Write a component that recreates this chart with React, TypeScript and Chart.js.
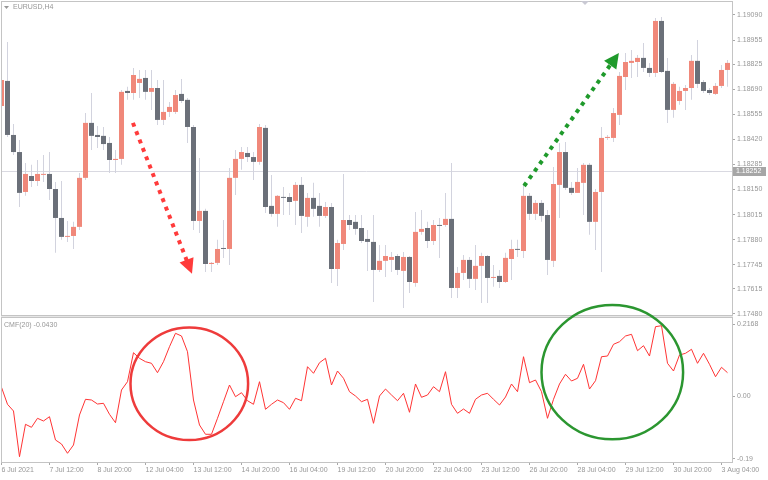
import React, { useEffect, useRef } from "react";
import { Chart, registerables } from "chart.js";

Chart.register(...registerables);

// ---------- DATA (EURUSD H4, bar 0 = 6 Jul 2021 04:00) ----------
const opens = [
  1.18600, 1.18735, 1.18444, 1.18352, 1.18137, 1.18223, 1.18196, 1.18229, 1.18234, 1.18153,
  1.17997, 1.17895, 1.17900, 1.17949, 1.18213, 1.18509, 1.18444, 1.18439, 1.18401, 1.18309,
  1.18315, 1.18681, 1.18670, 1.18724, 1.18751, 1.18676, 1.18697, 1.18525, 1.18568, 1.18568,
  1.18665, 1.18633, 1.18487, 1.17981, 1.18035, 1.17749, 1.17755, 1.17835, 1.17830, 1.18213,
  1.18315, 1.18347, 1.18325, 1.18299, 1.18482, 1.18062, 1.18019, 1.18110, 1.18110, 1.18089,
  1.18175, 1.18003, 1.18105, 1.18062, 1.18008, 1.18056, 1.17722, 1.17857, 1.17986, 1.17976,
  1.17943, 1.17884, 1.17868, 1.17717, 1.17766, 1.17771, 1.17792, 1.17712, 1.17787, 1.17647,
  1.17922, 1.17943, 1.17873, 1.17959, 1.17959, 1.17992, 1.17620, 1.17701, 1.17771, 1.17669,
  1.17739, 1.17792, 1.17674, 1.17685, 1.17652, 1.17776, 1.17830, 1.17819, 1.18116, 1.18019,
  1.18078, 1.18013, 1.17766, 1.18175, 1.18352, 1.18159, 1.18132, 1.18186, 1.18283, 1.17976,
  1.18137, 1.18428, 1.18428, 1.18552, 1.18756, 1.18832, 1.18837, 1.18859, 1.18805, 1.18778,
  1.19058, 1.18789, 1.18579, 1.18627, 1.18681, 1.18697, 1.18843, 1.18729, 1.18686, 1.18665,
  1.18708, 1.18794,
];
const highs = [
  1.18751, 1.18945, 1.18503, 1.18417, 1.18293, 1.18283, 1.18309, 1.18336, 1.18352, 1.18191,
  1.18196, 1.17981, 1.17976, 1.18239, 1.18562, 1.18670, 1.18492, 1.18487, 1.18433, 1.18363,
  1.18686, 1.18703, 1.18805, 1.18794, 1.18794, 1.18794, 1.18740, 1.18740, 1.18622, 1.18686,
  1.18746, 1.18643, 1.18498, 1.18320, 1.18046, 1.17760, 1.17879, 1.17986, 1.18266, 1.18363,
  1.18379, 1.18379, 1.18352, 1.18503, 1.18498, 1.18229, 1.18121, 1.18164, 1.18132, 1.18191,
  1.18218, 1.18132, 1.18186, 1.18132, 1.18083, 1.18078, 1.17879, 1.18234, 1.18013, 1.18013,
  1.18013, 1.17932, 1.18013, 1.17852, 1.17852, 1.17814, 1.17803, 1.17814, 1.17792, 1.18029,
  1.18040, 1.17976, 1.17986, 1.17997, 1.18132, 1.18293, 1.17733, 1.17798, 1.17787, 1.17852,
  1.17809, 1.17798, 1.17744, 1.17717, 1.17809, 1.17879, 1.17879, 1.18186, 1.18132, 1.18094,
  1.18094, 1.18040, 1.18272, 1.18401, 1.18406, 1.18191, 1.18266, 1.18293, 1.18293, 1.18153,
  1.18487, 1.18444, 1.18589, 1.18783, 1.18886, 1.18902, 1.18875, 1.18939, 1.18832, 1.19074,
  1.19079, 1.18859, 1.18729, 1.18703, 1.18713, 1.18875, 1.18956, 1.18740, 1.18697, 1.18724,
  1.18821, 1.18848,
];
const lows = [
  1.18589, 1.18433, 1.18336, 1.18056, 1.18116, 1.18164, 1.18169, 1.18191, 1.18094, 1.17809,
  1.17879, 1.17868, 1.17830, 1.17932, 1.18202, 1.18363, 1.18374, 1.18363, 1.18239, 1.18239,
  1.18283, 1.18633, 1.18633, 1.18643, 1.18633, 1.18579, 1.18498, 1.18498, 1.18541, 1.18557,
  1.18616, 1.18401, 1.17932, 1.17916, 1.17706, 1.17706, 1.17744, 1.17782, 1.17744, 1.18121,
  1.18256, 1.18299, 1.18202, 1.18283, 1.18024, 1.18003, 1.17949, 1.18013, 1.18013, 1.17959,
  1.17916, 1.17949, 1.18003, 1.17949, 1.17997, 1.17647, 1.17631, 1.17825, 1.17932, 1.17906,
  1.17862, 1.17712, 1.17545, 1.17706, 1.17679, 1.17706, 1.17690, 1.17512, 1.17593, 1.17626,
  1.17906, 1.17835, 1.17852, 1.17782, 1.17949, 1.17566, 1.17566, 1.17663, 1.17620, 1.17609,
  1.17539, 1.17539, 1.17626, 1.17620, 1.17647, 1.17663, 1.17787, 1.17782, 1.17986, 1.17986,
  1.17976, 1.17690, 1.17733, 1.17997, 1.18148, 1.18121, 1.18132, 1.18013, 1.17906, 1.17825,
  1.17706, 1.18417, 1.18406, 1.18498, 1.18686, 1.18751, 1.18756, 1.18783, 1.18756, 1.18756,
  1.18778, 1.18509, 1.18536, 1.18606, 1.18579, 1.18633, 1.18697, 1.18670, 1.18659, 1.18659,
  1.18697, 1.18703,
];
const closes = [
  1.18740, 1.18444, 1.18352, 1.18132, 1.18234, 1.18196, 1.18234, 1.18234, 1.18153, 1.17997,
  1.17895, 1.17900, 1.17949, 1.18213, 1.18509, 1.18439, 1.18433, 1.18395, 1.18309, 1.18315,
  1.18676, 1.18670, 1.18767, 1.18746, 1.18676, 1.18697, 1.18525, 1.18568, 1.18595, 1.18659,
  1.18627, 1.18487, 1.17981, 1.18035, 1.17749, 1.17755, 1.17830, 1.17830, 1.18213, 1.18315,
  1.18352, 1.18325, 1.18299, 1.18487, 1.18056, 1.18019, 1.18116, 1.18105, 1.18083, 1.18175,
  1.18008, 1.18105, 1.18046, 1.18008, 1.18056, 1.17722, 1.17862, 1.17986, 1.17959, 1.17938,
  1.17873, 1.17868, 1.17717, 1.17766, 1.17792, 1.17787, 1.17717, 1.17787, 1.17652, 1.17922,
  1.17938, 1.17873, 1.17959, 1.17954, 1.17992, 1.17620, 1.17701, 1.17771, 1.17669, 1.17739,
  1.17792, 1.17674, 1.17679, 1.17652, 1.17782, 1.17830, 1.17825, 1.18116, 1.18019, 1.18078,
  1.18008, 1.17771, 1.18180, 1.18352, 1.18159, 1.18132, 1.18191, 1.18283, 1.17976, 1.18137,
  1.18428, 1.18433, 1.18562, 1.18762, 1.18837, 1.18843, 1.18859, 1.18805, 1.18778, 1.19058,
  1.18783, 1.18579, 1.18719, 1.18681, 1.18697, 1.18843, 1.18719, 1.18681, 1.18670, 1.18708,
  1.18794, 1.18832,
];
const cmf = [
  0.0263, -0.0251, -0.0453, -0.1834, -0.0855, -0.0946, -0.0674, -0.0755, -0.0625, -0.1329,
  -0.1450, -0.1731, -0.1480, -0.0574, -0.0100, -0.0121, -0.0242, -0.0221, -0.0553, -0.0807,
  0.0181, 0.0432, 0.1308, 0.1139, 0.1036, 0.0988, 0.0704, 0.1036, 0.1489, 0.1894,
  0.1813, 0.1338, -0.0121, -0.0876, -0.1157, -0.1157, -0.0674, -0.0172, 0.0332, -0.0021,
  0.0100, -0.0142, -0.0251, 0.0432, -0.0402, -0.0251, -0.0121, -0.0202, -0.0402, -0.0069,
  -0.0142, 0.0885, 0.0686, 0.1006, 0.1139, 0.0332, 0.0755, 0.0535, 0.0130, 0.0000,
  -0.0172, -0.0100, -0.0825, 0.0000, 0.0211, 0.0030, -0.0142, 0.0082, -0.0492, 0.0363,
  -0.0039, 0.0030, 0.0281, 0.0130, 0.0734, -0.0251, -0.0523, -0.0393, -0.0523, -0.0100,
  0.0030, 0.0082, -0.0100, -0.0272, -0.0030, 0.0363, 0.0130, 0.1187, 0.0402, 0.0483,
  0.0130, -0.0674, -0.0100, 0.0363, 0.0656, 0.0453, 0.0535, 0.0958, 0.0211, 0.0462,
  0.1187, 0.1208, 0.1562, 0.1640, 0.1813, 0.1864, 0.1369, 0.1520, 0.1208, 0.2094,
  0.2124, 0.0988, 0.0755, 0.1239, 0.1290, 0.1411, 0.0988, 0.1290, 0.0958, 0.0583,
  0.0867, 0.0704,
];

const priceTicks = [
  1.1909, 1.18955, 1.18825, 1.1869, 1.18555, 1.1842, 1.18285,
  1.1815, 1.18015, 1.1788, 1.17745, 1.17615, 1.1748,
];
const cmfTicks = [0.2168, 0, -0.19];
const cmfTickLabels = ["0.2168", "0.00", "-0.19"];
const timeTickBars = [0, 8, 16, 24, 32, 40, 48, 56, 64, 72, 80, 88, 96, 104, 112, 120];
const timeTickLabels = [
  "6 Jul 2021", "7 Jul 12:00", "8 Jul 20:00", "12 Jul 04:00", "13 Jul 12:00",
  "14 Jul 20:00", "16 Jul 04:00", "19 Jul 12:00", "20 Jul 20:00", "22 Jul 04:00",
  "23 Jul 12:00", "26 Jul 20:00", "28 Jul 04:00", "29 Jul 12:00", "30 Jul 20:00",
  "3 Aug 04:00",
];
const symbolTitle = "EURUSD,H4";
const indicatorTitle = "CMF(20) -0.0430";
const markerPrice = 1.18252;

// annotations (in data coordinates: bar index / price / cmf value)
const arrowFromBar = [21.9, 87.1];
const arrowFromPrice = [1.18509, 1.18169];
const arrowToBar = [31.75, 102.9];
const arrowToPrice = [1.17696, 1.18886];
const arrowColors = ["#FF3B3B", "#1F9A2B"];
const circleBar = [31.3, 101.8];
const circleValue = [0.037, 0.072];
const circleBarRadius = [9.8, 11.8];
const circleValueRadius = [0.17, 0.203];
const circleColors = ["#EE3B3B", "#2B9630"];

// ---------- STYLE ----------
const BULL = "#F0887A";
const BEAR = "#6B7079";
const WICK = "#D2D3DE";
const TEXT = "#979797";
const FRAME = "#C4C4C4";
const FONT = "'Liberation Sans', Arial, sans-serif";

export default function App() {
  const ref = useRef<HTMLCanvasElement | null>(null);

  useEffect(() => {
    const canvas = ref.current;
    if (!canvas) return;
    const idx = opens.map((_, i) => i);
    const bodyData = idx.map((i) => ({ x: i, y: [opens[i], closes[i]] }));
    const wickData = idx.map((i) => ({ x: i, y: [lows[i], highs[i]] }));
    const bodyColors = idx.map((i) => (closes[i] >= opens[i] ? BULL : BEAR));
    const cmfData = idx.map((i) => ({ x: i, y: cmf[i] }));

    const overlay = {
      id: "mt4overlay",
      beforeDraw(chart: any) {
        const { ctx } = chart;
        ctx.save();
        ctx.fillStyle = "#FFFFFF";
        ctx.fillRect(0, 0, chart.width, chart.height);
        ctx.restore();
      },
      beforeDatasetsDraw(chart: any) {
        const { ctx, chartArea } = chart;
        const ys = chart.scales.y;
        const py = Math.round(ys.getPixelForValue(markerPrice)) + 0.5;
        ctx.save();
        ctx.strokeStyle = "#D9D9E1";
        ctx.lineWidth = 1;
        ctx.beginPath();
        ctx.moveTo(chartArea.left, py);
        ctx.lineTo(chartArea.right, py);
        ctx.stroke();
        ctx.restore();
      },
      afterDraw(chart: any) {
        const { ctx, chartArea } = chart;
        const xs = chart.scales.x;
        const ys = chart.scales.y;
        const y2 = chart.scales.y2;
        const L = chartArea.left;
        const R = chartArea.right;
        ctx.save();

        // panel frames
        ctx.fillStyle = "#E6E6E6";
        ctx.fillRect(L, ys.bottom, R - L + 1, 1);
        ctx.strokeStyle = FRAME;
        ctx.lineWidth = 1;
        ctx.strokeRect(L + 0.5, ys.top - 0.5, R - L, ys.bottom - ys.top);
        ctx.strokeRect(L + 0.5, y2.top + 1.5, R - L, y2.bottom - y2.top - 1);

        // current price label box
        const py = ys.getPixelForValue(markerPrice);
        ctx.fillStyle = "#A6A6A6";
        ctx.fillRect(R + 1, Math.round(py) - 4, 33, 9);
        ctx.fillStyle = "#FFFFFF";
        ctx.font = `7px ${FONT}`;
        ctx.textBaseline = "middle";
        ctx.textAlign = "left";
        ctx.fillText(markerPrice.toFixed(5), R + 4, Math.round(py) + 0.5);

        // titles
        ctx.fillStyle = TEXT;
        ctx.beginPath();
        ctx.moveTo(L + 3, ys.top + 4);
        ctx.lineTo(L + 8, ys.top + 4);
        ctx.lineTo(L + 5.5, ys.top + 7);
        ctx.closePath();
        ctx.fill();
        ctx.fillText(symbolTitle, L + 12, ys.top + 5);
        ctx.fillText(indicatorTitle, L + 3, y2.top + 9);

        // chart-shift marker
        ctx.fillStyle = "#C9C9D3";
        ctx.beginPath();
        ctx.moveTo(581, 1);
        ctx.lineTo(589, 1);
        ctx.lineTo(585, 5);
        ctx.closePath();
        ctx.fill();

        // dotted arrows
        for (let k = 0; k < arrowColors.length; k++) {
          const x0 = xs.getPixelForValue(arrowFromBar[k]);
          const y0 = ys.getPixelForValue(arrowFromPrice[k]);
          const x1 = xs.getPixelForValue(arrowToBar[k]);
          const y1 = ys.getPixelForValue(arrowToPrice[k]);
          const dx = x1 - x0;
          const dy = y1 - y0;
          const len = Math.hypot(dx, dy);
          const ux = dx / len;
          const uy = dy / len;
          const head = 15;
          const half = 7.5;
          const bx = x1 - ux * head;
          const by = y1 - uy * head;
          ctx.strokeStyle = arrowColors[k];
          ctx.fillStyle = arrowColors[k];
          ctx.lineWidth = 4;
          ctx.lineCap = "butt";
          ctx.setLineDash([4, 5]);
          ctx.beginPath();
          ctx.moveTo(x0, y0);
          ctx.lineTo(bx + ux * 2, by + uy * 2);
          ctx.stroke();
          ctx.setLineDash([]);
          ctx.beginPath();
          ctx.moveTo(x1, y1);
          ctx.lineTo(bx - uy * half, by + ux * half);
          ctx.lineTo(bx + uy * half, by - ux * half);
          ctx.closePath();
          ctx.fill();
        }

        // circles
        for (let k = 0; k < circleColors.length; k++) {
          const cx = xs.getPixelForValue(circleBar[k]);
          const cy = y2.getPixelForValue(circleValue[k]);
          const rx = Math.abs(xs.getPixelForValue(circleBar[k] + circleBarRadius[k]) - cx);
          const ry = Math.abs(y2.getPixelForValue(circleValue[k] - circleValueRadius[k]) - cy);
          ctx.strokeStyle = circleColors[k];
          ctx.lineWidth = 2.5;
          ctx.beginPath();
          ctx.ellipse(cx, cy, rx, ry, 0, 0, Math.PI * 2);
          ctx.stroke();
        }
        ctx.restore();
      },
    };

    const tickFont = { family: FONT, size: 7 };

    const chart = new Chart(canvas, {
      type: "bar",
      data: {
        datasets: [
          {
            type: "bar",
            label: "body",
            data: bodyData as any,
            backgroundColor: bodyColors,
            barThickness: 5,
            grouped: false,
            inflateAmount: 0,
            minBarLength: 1,
            order: 1,
            xAxisID: "x",
            yAxisID: "y",
          },
          {
            type: "bar",
            label: "wick",
            data: wickData as any,
            backgroundColor: WICK,
            barThickness: 1,
            grouped: false,
            inflateAmount: 0,
            order: 2,
            xAxisID: "x",
            yAxisID: "y",
          },
          {
            type: "line",
            label: "CMF",
            data: cmfData as any,
            borderColor: "#FF3434",
            borderWidth: 1,
            pointRadius: 0,
            tension: 0,
            fill: false,
            order: 0,
            xAxisID: "x",
            yAxisID: "y2",
          },
        ] as any,
      },
      options: {
        animation: false,
        responsive: false,
        devicePixelRatio: 1,
        events: [],
        layout: { padding: { left: 1, right: 0, top: 2, bottom: 0 } },
        plugins: { legend: { display: false }, tooltip: { enabled: false } },
        scales: {
          x: {
            type: "linear",
            position: "bottom",
            min: -0.08333,
            max: 121.75,
            bounds: "data",
            offset: false,
            border: { display: false },
            grid: {
              offset: false,
              drawOnChartArea: false,
              drawTicks: true,
              tickLength: 3,
              color: "#A8A8A8",
            },
            ticks: {
              autoSkip: false,
              maxRotation: 0,
              minRotation: 0,
              align: "start",
              padding: 1,
              color: TEXT,
              font: tickFont,
              callback: (_v: any, i: number) => timeTickLabels[i] ?? "",
            },
            afterBuildTicks: (s: any) => {
              s.ticks = timeTickBars.map((v) => ({ value: v }));
            },
            afterFit: (s: any) => {
              s.height = 18;
              s.paddingLeft = 0;
              s.paddingRight = 0;
            },
          },
          y: {
            type: "linear",
            position: "right",
            stack: "panes",
            stackWeight: 314,
            min: 1.17469,
            max: 1.1916,
            bounds: "data",
            beginAtZero: false,
            border: { display: false },
            grid: { drawOnChartArea: false, drawTicks: true, tickLength: 3, color: "#A8A8A8" },
            ticks: {
              autoSkip: false,
              padding: 2,
              color: TEXT,
              font: tickFont,
              callback: (v: any) => Number(v).toFixed(5),
            },
            afterBuildTicks: (s: any) => {
              s.ticks = priceTicks.map((v) => ({ value: v }));
            },
            afterFit: (s: any) => {
              s.width = 36;
              s.paddingTop = 0;
              s.paddingBottom = 0;
            },
          },
          y2: {
            type: "linear",
            position: "right",
            stack: "panes",
            stackWeight: 146,
            min: -0.1994,
            max: 0.2417,
            bounds: "data",
            border: { display: false },
            grid: { drawOnChartArea: false, drawTicks: true, tickLength: 3, color: "#A8A8A8" },
            ticks: {
              autoSkip: false,
              padding: 2,
              color: TEXT,
              font: tickFont,
              callback: (_v: any, i: number) => cmfTickLabels[i] ?? "",
            },
            afterBuildTicks: (s: any) => {
              s.ticks = cmfTicks.map((v) => ({ value: v }));
            },
            afterFit: (s: any) => {
              s.width = 36;
              s.paddingTop = 0;
              s.paddingBottom = 0;
            },
          },
        } as any,
      },
      plugins: [overlay],
    });

    return () => chart.destroy();
  }, []);

  return (
    <div style={{ position: "absolute", left: 0, top: 0, width: 768, height: 480, background: "#FFFFFF" }}>
      <canvas ref={ref} width={768} height={480} style={{ display: "block", width: 768, height: 480 }} />
    </div>
  );
}
